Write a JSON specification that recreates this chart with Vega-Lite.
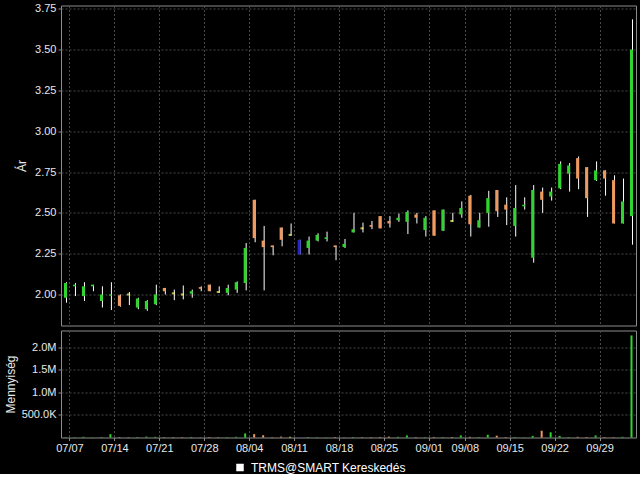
{
  "$schema": "https://vega.github.io/schema/vega-lite/v6.json",
  "background": "#000000",
  "padding": {"left": 3, "top": 1.5, "right": 4, "bottom": 0},
  "datasets": {
    "px": [
      {"d": "07/04", "o": 1.98, "h": 2.075, "l": 1.95, "c": 2.07, "v": 10000, "k": "up", "s": "TRMS@SMART Kereskedés"},
      {"d": "07/07", "o": 2.05, "h": 2.07, "l": 1.99, "c": 2.06, "v": 8000, "k": "up", "s": "TRMS@SMART Kereskedés"},
      {"d": "07/08", "o": 1.99, "h": 2.075, "l": 1.96, "c": 2.05, "v": 15000, "k": "up", "s": "TRMS@SMART Kereskedés"},
      {"d": "07/09", "o": 2.05, "h": 2.06, "l": 2.02, "c": 2.06, "v": 5000, "k": "up", "s": "TRMS@SMART Kereskedés"},
      {"d": "07/10", "o": 1.96, "h": 2.05, "l": 1.92, "c": 2.0, "v": 12000, "k": "up", "s": "TRMS@SMART Kereskedés"},
      {"d": "07/11", "o": 1.993, "h": 2.075, "l": 1.905, "c": 2.0, "v": 73000, "k": "up", "s": "TRMS@SMART Kereskedés"},
      {"d": "07/14", "o": 1.995, "h": 2.0, "l": 1.925, "c": 1.93, "v": 10000, "k": "down", "s": "TRMS@SMART Kereskedés"},
      {"d": "07/15", "o": 2.0, "h": 2.015, "l": 1.935, "c": 2.0, "v": 5000, "k": "flat", "s": "TRMS@SMART Kereskedés"},
      {"d": "07/16", "o": 1.92, "h": 1.98, "l": 1.91, "c": 1.975, "v": 12000, "k": "up", "s": "TRMS@SMART Kereskedés"},
      {"d": "07/17", "o": 1.91, "h": 1.965, "l": 1.9, "c": 1.96, "v": 20000, "k": "up", "s": "TRMS@SMART Kereskedés"},
      {"d": "07/18", "o": 1.94, "h": 2.06, "l": 1.935, "c": 2.0, "v": 15000, "k": "up", "s": "TRMS@SMART Kereskedés"},
      {"d": "07/21", "o": 2.04, "h": 2.04, "l": 2.0, "c": 2.02, "v": 8000, "k": "down", "s": "TRMS@SMART Kereskedés"},
      {"d": "07/22", "o": 2.007, "h": 2.03, "l": 1.965, "c": 2.007, "v": 6000, "k": "flat", "s": "TRMS@SMART Kereskedés"},
      {"d": "07/23", "o": 2.0, "h": 2.055, "l": 1.97, "c": 2.0, "v": 5000, "k": "flat", "s": "TRMS@SMART Kereskedés"},
      {"d": "07/24", "o": 2.005, "h": 2.03, "l": 1.98, "c": 2.02, "v": 12000, "k": "up", "s": "TRMS@SMART Kereskedés"},
      {"d": "07/25", "o": 2.045, "h": 2.05, "l": 2.02, "c": 2.035, "v": 5000, "k": "down", "s": "TRMS@SMART Kereskedés"},
      {"d": "07/28", "o": 2.06, "h": 2.06, "l": 2.02, "c": 2.02, "v": 10000, "k": "down", "s": "TRMS@SMART Kereskedés"},
      {"d": "07/29", "o": 2.015, "h": 2.05, "l": 2.01, "c": 2.015, "v": 5000, "k": "flat", "s": "TRMS@SMART Kereskedés"},
      {"d": "07/30", "o": 2.01, "h": 2.06, "l": 1.995, "c": 2.04, "v": 8000, "k": "up", "s": "TRMS@SMART Kereskedés"},
      {"d": "07/31", "o": 2.03, "h": 2.08, "l": 2.01, "c": 2.075, "v": 15000, "k": "up", "s": "TRMS@SMART Kereskedés"},
      {"d": "08/01", "o": 2.07, "h": 2.315, "l": 2.025, "c": 2.285, "v": 90000, "k": "up", "s": "TRMS@SMART Kereskedés"},
      {"d": "08/04", "o": 2.58, "h": 2.58, "l": 2.32, "c": 2.345, "v": 75000, "k": "down", "s": "TRMS@SMART Kereskedés"},
      {"d": "08/05", "o": 2.33, "h": 2.42, "l": 2.025, "c": 2.29, "v": 50000, "k": "down", "s": "TRMS@SMART Kereskedés"},
      {"d": "08/06", "o": 2.3, "h": 2.3, "l": 2.24, "c": 2.29, "v": 8000, "k": "down", "s": "TRMS@SMART Kereskedés"},
      {"d": "08/07", "o": 2.41, "h": 2.41, "l": 2.295, "c": 2.335, "v": 20000, "k": "down", "s": "TRMS@SMART Kereskedés"},
      {"d": "08/08", "o": 2.365, "h": 2.435, "l": 2.36, "c": 2.365, "v": 15000, "k": "flat", "s": "TRMS@SMART Kereskedés"},
      {"d": "08/11", "o": 2.335, "h": 2.335, "l": 2.245, "c": 2.245, "v": 5000, "k": "other", "s": "TRMS@SMART Kereskedés"},
      {"d": "08/12", "o": 2.285, "h": 2.355, "l": 2.245, "c": 2.33, "v": 10000, "k": "up", "s": "TRMS@SMART Kereskedés"},
      {"d": "08/13", "o": 2.33, "h": 2.375, "l": 2.325, "c": 2.365, "v": 8000, "k": "up", "s": "TRMS@SMART Kereskedés"},
      {"d": "08/14", "o": 2.34, "h": 2.385, "l": 2.325, "c": 2.35, "v": 5000, "k": "up", "s": "TRMS@SMART Kereskedés"},
      {"d": "08/15", "o": 2.3, "h": 2.3, "l": 2.21, "c": 2.29, "v": 10000, "k": "down", "s": "TRMS@SMART Kereskedés"},
      {"d": "08/18", "o": 2.29, "h": 2.34, "l": 2.285, "c": 2.31, "v": 6000, "k": "up", "s": "TRMS@SMART Kereskedés"},
      {"d": "08/19", "o": 2.38, "h": 2.5, "l": 2.38, "c": 2.4, "v": 10000, "k": "up", "s": "TRMS@SMART Kereskedés"},
      {"d": "08/20", "o": 2.405, "h": 2.44, "l": 2.38, "c": 2.405, "v": 5000, "k": "flat", "s": "TRMS@SMART Kereskedés"},
      {"d": "08/21", "o": 2.425, "h": 2.45, "l": 2.4, "c": 2.415, "v": 8000, "k": "down", "s": "TRMS@SMART Kereskedés"},
      {"d": "08/22", "o": 2.48, "h": 2.48, "l": 2.405, "c": 2.405, "v": 12000, "k": "down", "s": "TRMS@SMART Kereskedés"},
      {"d": "08/25", "o": 2.45, "h": 2.48, "l": 2.41, "c": 2.435, "v": 20000, "k": "down", "s": "TRMS@SMART Kereskedés"},
      {"d": "08/26", "o": 2.455, "h": 2.495, "l": 2.445, "c": 2.47, "v": 15000, "k": "up", "s": "TRMS@SMART Kereskedés"},
      {"d": "08/27", "o": 2.445, "h": 2.515, "l": 2.37, "c": 2.505, "v": 45000, "k": "up", "s": "TRMS@SMART Kereskedés"},
      {"d": "08/28", "o": 2.49, "h": 2.5, "l": 2.435, "c": 2.47, "v": 10000, "k": "down", "s": "TRMS@SMART Kereskedés"},
      {"d": "08/29", "o": 2.395, "h": 2.48, "l": 2.355, "c": 2.47, "v": 8000, "k": "up", "s": "TRMS@SMART Kereskedés"},
      {"d": "09/01", "o": 2.515, "h": 2.515, "l": 2.36, "c": 2.36, "v": 12000, "k": "down", "s": "TRMS@SMART Kereskedés"},
      {"d": "09/02", "o": 2.39, "h": 2.52, "l": 2.39, "c": 2.52, "v": 10000, "k": "up", "s": "TRMS@SMART Kereskedés"},
      {"d": "09/03", "o": 2.45, "h": 2.5, "l": 2.445, "c": 2.45, "v": 8000, "k": "flat", "s": "TRMS@SMART Kereskedés"},
      {"d": "09/04", "o": 2.49, "h": 2.57, "l": 2.47, "c": 2.53, "v": 45000, "k": "up", "s": "TRMS@SMART Kereskedés"},
      {"d": "09/08", "o": 2.605, "h": 2.61, "l": 2.355, "c": 2.43, "v": 15000, "k": "down", "s": "TRMS@SMART Kereskedés"},
      {"d": "09/09", "o": 2.41, "h": 2.5, "l": 2.41, "c": 2.455, "v": 10000, "k": "up", "s": "TRMS@SMART Kereskedés"},
      {"d": "09/10", "o": 2.5, "h": 2.635, "l": 2.415, "c": 2.59, "v": 60000, "k": "up", "s": "TRMS@SMART Kereskedés"},
      {"d": "09/11", "o": 2.64, "h": 2.64, "l": 2.475, "c": 2.51, "v": 40000, "k": "down", "s": "TRMS@SMART Kereskedés"},
      {"d": "09/12", "o": 2.55, "h": 2.595, "l": 2.425, "c": 2.52, "v": 10000, "k": "down", "s": "TRMS@SMART Kereskedés"},
      {"d": "09/15", "o": 2.42, "h": 2.67, "l": 2.355, "c": 2.53, "v": 12000, "k": "up", "s": "TRMS@SMART Kereskedés"},
      {"d": "09/16", "o": 2.54, "h": 2.595, "l": 2.52, "c": 2.55, "v": 5000, "k": "up", "s": "TRMS@SMART Kereskedés"},
      {"d": "09/17", "o": 2.225, "h": 2.67, "l": 2.195, "c": 2.64, "v": 35000, "k": "up", "s": "TRMS@SMART Kereskedés"},
      {"d": "09/18", "o": 2.63, "h": 2.655, "l": 2.5, "c": 2.58, "v": 150000, "k": "down", "s": "TRMS@SMART Kereskedés"},
      {"d": "09/19", "o": 2.6, "h": 2.655, "l": 2.575, "c": 2.63, "v": 115000, "k": "up", "s": "TRMS@SMART Kereskedés"},
      {"d": "09/22", "o": 2.65, "h": 2.815, "l": 2.645, "c": 2.8, "v": 35000, "k": "up", "s": "TRMS@SMART Kereskedés"},
      {"d": "09/23", "o": 2.74, "h": 2.805, "l": 2.63, "c": 2.79, "v": 10000, "k": "up", "s": "TRMS@SMART Kereskedés"},
      {"d": "09/24", "o": 2.835, "h": 2.845, "l": 2.645, "c": 2.71, "v": 15000, "k": "down", "s": "TRMS@SMART Kereskedés"},
      {"d": "09/25", "o": 2.78, "h": 2.78, "l": 2.475, "c": 2.59, "v": 12000, "k": "down", "s": "TRMS@SMART Kereskedés"},
      {"d": "09/26", "o": 2.7, "h": 2.815, "l": 2.695, "c": 2.76, "v": 45000, "k": "up", "s": "TRMS@SMART Kereskedés"},
      {"d": "09/29", "o": 2.76, "h": 2.76, "l": 2.605, "c": 2.71, "v": 10000, "k": "down", "s": "TRMS@SMART Kereskedés"},
      {"d": "09/30", "o": 2.7, "h": 2.73, "l": 2.435, "c": 2.435, "v": 8000, "k": "down", "s": "TRMS@SMART Kereskedés"},
      {"d": "10/01", "o": 2.435, "h": 2.71, "l": 2.435, "c": 2.57, "v": 15000, "k": "up", "s": "TRMS@SMART Kereskedés"},
      {"d": "10/02", "o": 2.48, "h": 3.685, "l": 2.305, "c": 3.5, "v": 2260000, "k": "up", "s": "TRMS@SMART Kereskedés"}
    ]
  },
  "data": {"name": "px"},
  "bounds": "flush",
  "spacing": 5,
  "vconcat": [
    {
      "width": 575,
      "height": 320,
      "encoding": {
        "x": {
          "field": "d", "type": "ordinal", "sort": null,
          "scale": {"paddingInner": 0, "paddingOuter": 0},
          "axis": {
            "values": ["07/07","07/14","07/21","07/28","08/04","08/11","08/18","08/25","09/01","09/08","09/15","09/22","09/29"],
            "labels": false, "ticks": false, "domain": false, "title": null, "grid": true, "bandPosition": 0
          }
        }
      },
      "layer": [
        {
          "mark": {"type": "rule", "xOffset": 1, "strokeWidth": 1},
          "encoding": {
            "y": {
              "field": "l", "type": "quantitative",
              "scale": {"domain": [1.81, 3.77], "nice": false, "zero": false},
              "axis": {"title": "Ár", "values": [2, 2.25, 2.5, 2.75, 3, 3.25, 3.5, 3.75], "format": ".2f", "grid": true, "titlePadding": 6}
            },
            "y2": {"field": "h"},
            "color": {
              "field": "s", "type": "nominal",
              "scale": {"range": ["#ffffff"]},
              "legend": {
                "orient": "none", "legendX": 173, "legendY": 456, "title": null,
                "symbolType": "square", "symbolSize": 36, "symbolFillColor": "#ffffff", "symbolStrokeColor": "#ffffff",
                "labelColor": "#ffffff", "labelFontSize": 12, "labelFont": "Liberation Sans", "labelOffset": 5
              }
            }
          }
        },
        {
          "transform": [{"filter": "datum.k != 'flat'"}],
          "mark": {"type": "bar", "width": 3},
          "encoding": {
            "y": {
              "field": "o", "type": "quantitative",
              "scale": {"domain": [1.81, 3.77], "nice": false, "zero": false},
              "axis": {"title": "Ár", "values": [2, 2.25, 2.5, 2.75, 3, 3.25, 3.5, 3.75], "format": ".2f", "grid": true, "titlePadding": 6}
            },
            "y2": {"field": "c"},
            "fill": {
              "field": "k", "type": "nominal",
              "scale": {"domain": ["up", "down", "flat", "other"], "range": ["#2fd42f", "#ec9a60", "#ffff66", "#2424c8"]},
              "legend": null
            }
          }
        },
        {
          "transform": [{"filter": "datum.k == 'flat'"}],
          "mark": {"type": "tick", "thickness": 2, "size": 3},
          "encoding": {
            "y": {
              "field": "o", "type": "quantitative",
              "scale": {"domain": [1.81, 3.77], "nice": false, "zero": false},
              "axis": {"title": "Ár", "values": [2, 2.25, 2.5, 2.75, 3, 3.25, 3.5, 3.75], "format": ".2f", "grid": true, "titlePadding": 6}
            },
            "fill": {
              "field": "k", "type": "nominal",
              "scale": {"domain": ["up", "down", "flat", "other"], "range": ["#2fd42f", "#ec9a60", "#ffff66", "#2424c8"]},
              "legend": null
            }
          }
        }
      ]
    },
    {
      "width": 575,
      "height": 107,
      "mark": {"type": "bar", "width": 2},
      "encoding": {
        "x": {
          "field": "d", "type": "ordinal", "sort": null,
          "scale": {"paddingInner": 0, "paddingOuter": 0},
          "axis": {
            "values": ["07/07","07/14","07/21","07/28","08/04","08/11","08/18","08/25","09/01","09/08","09/15","09/22","09/29"],
            "labels": true, "ticks": true, "domain": false, "title": null, "grid": true, "bandPosition": 0,
            "labelAngle": 0, "labelPadding": 2, "labelOffset": -4.5
          }
        },
        "y": {
          "field": "v", "type": "quantitative",
          "scale": {"domain": [0, 2370000], "nice": false},
          "axis": {
            "title": "Mennyiség", "values": [500000, 1000000, 1500000, 2000000], "grid": true, "titlePadding": 4,
            "labelExpr": "datum.value >= 1000000 ? format(datum.value / 1000000, '.1f') + 'M' : format(datum.value / 1000, '.1f') + 'K'"
          }
        },
        "fill": {
          "field": "k", "type": "nominal",
          "scale": {"domain": ["up", "down", "flat", "other"], "range": ["#2fd42f", "#ec9a60", "#ffff66", "#2424c8"]},
          "legend": null
        }
      }
    }
  ],
  "config": {
    "font": "Liberation Sans",
    "view": {"stroke": "#8c8c8c", "strokeWidth": 1},
    "axis": {
      "labelColor": "#e8e8e8", "titleColor": "#e8e8e8", "labelFontSize": 11, "titleFontSize": 12,
      "titleFontWeight": "normal", "labelFont": "Liberation Sans", "titleFont": "Liberation Sans",
      "gridColor": "#484848", "gridDash": [2, 2], "gridWidth": 1,
      "tickColor": "#8c8c8c", "tickSize": 3, "domain": false, "labelPadding": 2
    }
  }
}
